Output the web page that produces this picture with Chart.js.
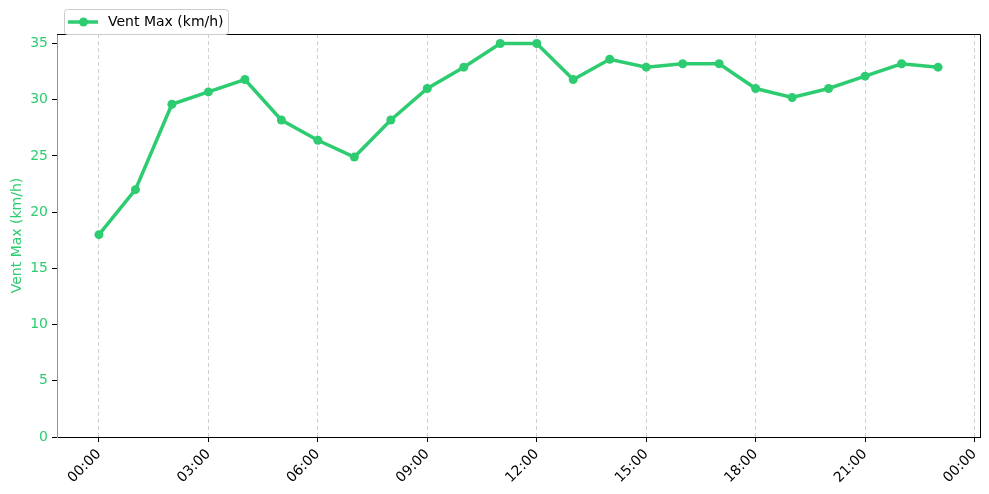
<!DOCTYPE html>
<html>
<head>
<meta charset="utf-8">
<script src="https://cdn.jsdelivr.net/npm/chart.js@4"></script>
<style>
  html, body { margin: 0; padding: 0; background: #fff; }
  #wrap { width: 989px; height: 494px; }
</style>
</head>
<body>
<div id="wrap"><canvas id="ventChart" width="989" height="494"></canvas></div>
<script>
const hours = [0, 1, 2, 3, 4, 5, 6, 7, 8, 9, 10, 11, 12, 13, 14, 15, 16, 17, 18, 19, 20, 21, 22, 23];
const ventMax = [18, 22, 29.6, 30.7, 31.8, 28.2, 26.4, 24.9, 28.2, 31.0, 32.9, 35.0, 35.0, 31.8, 33.6, 32.9, 33.2, 33.2, 31.0, 30.2, 31.0, 32.1, 33.2, 32.9];
const xTicks = [0, 3, 6, 9, 12, 15, 18, 21, 24];
const xTickLabels = ['00:00', '03:00', '06:00', '09:00', '12:00', '15:00', '18:00', '21:00', '00:00'];
const yTicks = [0, 5, 10, 15, 20, 25, 30, 35];
const seriesLabel = 'Vent Max (km/h)';

const green = '#2ecc71';
const font = { family: 'DejaVu Sans', size: 14 };

// top + right spines and the legend box
const framePlugin = {
  id: 'frame',
  afterDraw(chart) {
    const { ctx, chartArea: a } = chart;
    ctx.save();
    ctx.strokeStyle = '#000';
    ctx.lineWidth = 1;
    ctx.beginPath();
    ctx.moveTo(a.left, a.top + 0.5);
    ctx.lineTo(a.right + 0.5, a.top + 0.5);
    ctx.lineTo(a.right + 0.5, a.bottom);
    ctx.stroke();

    // legend
    const bx = 64.5, by = 9.5, bw = 164, bh = 25;
    ctx.fillStyle = 'rgba(255,255,255,0.8)';
    ctx.strokeStyle = '#cccccc';
    ctx.beginPath();
    ctx.roundRect(bx, by, bw, bh, 3);
    ctx.fill();
    ctx.stroke();
    const ly = by + bh / 2;
    ctx.strokeStyle = green;
    ctx.lineWidth = 3.5;
    ctx.beginPath();
    ctx.moveTo(68, ly);
    ctx.lineTo(98, ly);
    ctx.stroke();
    ctx.fillStyle = green;
    ctx.beginPath();
    ctx.arc(83.5, ly, 4.5, 0, Math.PI * 2);
    ctx.fill();
    ctx.fillStyle = '#000';
    ctx.font = '14px "DejaVu Sans"';
    ctx.textBaseline = 'middle';
    ctx.textAlign = 'left';
    ctx.fillText(seriesLabel, 108, ly);
    ctx.restore();
  }
};

new Chart(document.getElementById('ventChart'), {
  type: 'line',
  data: {
    datasets: [{
      label: seriesLabel,
      data: hours.map((h, i) => ({ x: h, y: ventMax[i] })),
      borderColor: green,
      backgroundColor: green,
      borderWidth: 3.5,
      pointRadius: 4.5,
      pointBorderWidth: 0,
      pointBackgroundColor: green,
      tension: 0,
      fill: false
    }]
  },
  options: {
    responsive: false,
    animation: false,
    layout: { padding: { top: 34, right: 9, left: 0, bottom: 0 } },
    plugins: {
      legend: { display: false },
      tooltip: { enabled: false }
    },
    scales: {
      x: {
        type: 'linear',
        min: -1.15,
        max: 24.15,
        afterBuildTicks: (scale) => { scale.ticks = xTicks.map(v => ({ value: v })); },
        afterFit: (scale) => {
          scale.height = 57;
          scale.paddingLeft = 0;
          scale.paddingRight = 0;
        },
        ticks: {
          color: '#000',
          font: font,
          padding: 4,
          minRotation: 45,
          maxRotation: 45,
          autoSkip: false,
          callback: (v) => xTickLabels[xTicks.indexOf(v)]
        },
        grid: {
          display: true,
          drawOnChartArea: true,
          drawTicks: true,
          color: 'rgba(176,176,176,0.6)',
          lineWidth: 1,
          tickColor: '#000',
          tickLength: 5,
          tickBorderDash: []
        },
        border: { display: true, color: '#000', width: 1, dash: [4, 3] }
      },
      y: {
        type: 'linear',
        min: 0,
        max: 35.85,
        afterBuildTicks: (scale) => { scale.ticks = yTicks.map(v => ({ value: v })); },
        afterFit: (scale) => { scale.width = 57; },
        ticks: {
          color: green,
          font: font,
          padding: 4
        },
        grid: {
          display: true,
          drawOnChartArea: false,
          drawTicks: true,
          tickColor: '#000',
          tickLength: 5
        },
        border: { display: true, color: green, width: 1 },
        title: {
          display: true,
          text: seriesLabel,
          color: green,
          font: font,
          padding: { top: 9, bottom: 4 }
        }
      }
    }
  },
  plugins: [framePlugin]
});
</script>
</body>
</html>
